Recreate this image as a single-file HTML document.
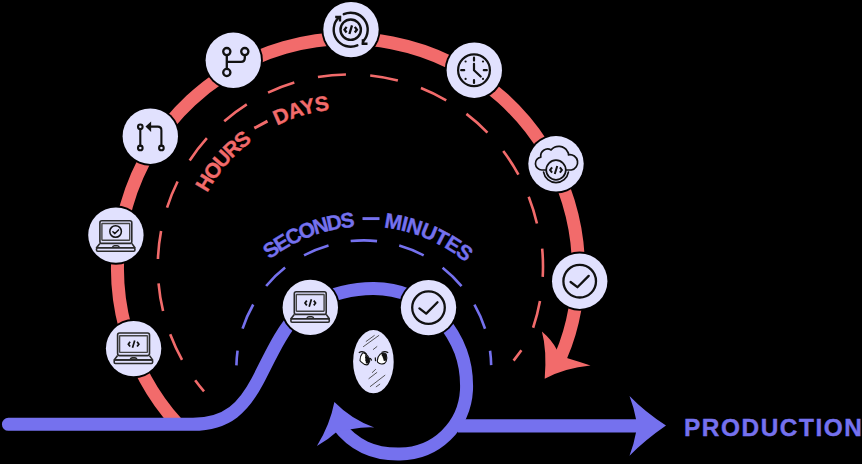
<!DOCTYPE html><html><head><meta charset="utf-8"><style>html,body{margin:0;padding:0;background:#000;}svg{display:block;}</style></head><body>
<svg width="862" height="464" viewBox="0 0 862 464">
<rect width="862" height="464" fill="#000"/>
<path d="M204.02,391.35 A192.00,192.00 0 0 1 195.16,380.20 M182.04,359.78 A192.00,192.00 0 0 1 170.19,334.27 M163.07,311.06 A192.00,192.00 0 0 1 158.55,283.30 M157.94,259.03 A192.00,192.00 0 0 1 161.08,231.08 M167.04,207.55 A192.00,192.00 0 0 1 177.60,181.48 M189.69,160.43 A192.00,192.00 0 0 1 206.89,138.18 M224.22,121.17 A192.00,192.00 0 0 1 246.78,104.38 M268.05,92.67 A192.00,192.00 0 0 1 294.31,82.59 M317.95,77.06 A192.00,192.00 0 0 1 345.95,74.44 M370.20,75.49 A192.00,192.00 0 0 1 397.87,80.52 M420.95,88.07 A192.00,192.00 0 0 1 446.23,100.38 M466.42,113.87 A192.00,192.00 0 0 1 487.45,132.54 M503.24,150.99 A192.00,192.00 0 0 1 518.45,174.64 M528.68,196.66 A192.00,192.00 0 0 1 536.95,223.54 M542.17,248.55 A193.20,193.20 0 0 1 542.72,276.85 M539.98,300.96 A193.30,193.30 0 0 1 533.11,327.73 M521.4,350.2 L513.6,360.6" fill="none" stroke="#F26B6B" stroke-width="2.6"/>
<path d="M236.42,365.35 A127.40,127.40 0 0 1 237.56,350.64 M242.57,328.64 A127.40,127.40 0 0 1 253.25,304.49 M266.15,285.98 A127.40,127.40 0 0 1 285.12,267.60 M304.03,255.29 A127.40,127.40 0 0 1 328.51,245.38 M350.66,241.08 A127.40,127.40 0 0 1 377.07,241.09 M399.22,245.42 A127.40,127.40 0 0 1 423.69,255.35 M442.59,267.68 A127.40,127.40 0 0 1 461.54,286.08 M474.42,304.60 A127.40,127.40 0 0 1 485.07,328.77 M490.06,350.77 A127.40,127.40 0 0 1 491.17,365.13" fill="none" stroke="#7571EE" stroke-width="2.6"/>
<path d="M176.78,423.17 A230.40,230.40 0 1 1 574.90,309.01 Q570.6,333.6 561,356" fill="none" stroke="#F26B6B" stroke-width="13"/>
<path d="M544.7,378.8 Q547,350 541.9,331.5 Q552,340 557,350 L567.6,358.3 Q580,362 590.5,365.6 Q565,368 544.7,378.8 Z" fill="#F26B6B"/>
<path d="M8.4,424.3 L193,424.3 C228,424.3 244,406.5 257.5,381 C270,357 281,331 298.5,313 L310,304 C326,296.5 349,288.5 373,288.5 C399,288.3 424,298.5 440,317 C459,340 467.5,362 466.5,390 C464.5,426 436,453.5 400,454 C374,454.5 354,446 338,425" fill="none" stroke="#7571EE" stroke-width="13" stroke-linecap="round"/>
<path d="M334.4,402.1 Q352,420 374.2,427.4 Q362,427 352.5,428.9 L337.1,431.6 Q328,440 316.9,446 Q330,425 334.4,402.1 Z" fill="#7571EE"/>
<path d="M458,425.8 L640,425.8" stroke="#7571EE" stroke-width="13.2"/>
<path d="M666,425.5 Q645,412 629.5,396 Q634,408 636,419 L636,432.6 Q634,444 629.5,455.7 Q645,440 666,425.5 Z" fill="#7571EE"/>
<g transform="translate(133.6,348.6)"><circle r="29.6" fill="#000"/><circle r="27.7" fill="#E1E1FE"/><g fill="none" stroke="#2a2a2a" stroke-width="1.6" stroke-linejoin="round"><rect x="-16" y="-15.6" width="31.9" height="22.6" rx="2"/><rect x="-14" y="-12.9" width="27.8" height="16.7" rx="0.4" stroke="#444" stroke-width="1.4"/><path d="M-16,7 L-19.4,11.3 L19,11.3 L15.9,7"/><rect x="-19.4" y="11.3" width="38.4" height="3.6" rx="1.2"/><path d="M-3.5,11.3 Q-3,9.3 -1.5,9.3 L1.5,9.3 Q3,9.3 3.5,11.3"/></g><g transform="translate(0,-4.4) scale(0.85)" fill="none" stroke="#111111" stroke-width="2" stroke-linecap="butt" stroke-linejoin="miter"><path d="M-4.1,-2.8 L-6.2,0 L-4.1,2.8 M4.1,-2.8 L6.2,0 L4.1,2.8 M1.3,-4.3 L-1.3,4.3"/></g></g>
<g transform="translate(115.9,235.1)"><circle r="29.6" fill="#000"/><circle r="27.7" fill="#E1E1FE"/><g transform="translate(0,1.3)"><g fill="none" stroke="#2a2a2a" stroke-width="1.6" stroke-linejoin="round"><rect x="-16" y="-15.6" width="31.9" height="22.6" rx="2"/><rect x="-14" y="-12.9" width="27.8" height="16.7" rx="0.4" stroke="#444" stroke-width="1.4"/><path d="M-16,7 L-19.4,11.3 L19,11.3 L15.9,7"/><rect x="-19.4" y="11.3" width="38.4" height="3.6" rx="1.2"/><path d="M-3.5,11.3 Q-3,9.3 -1.5,9.3 L1.5,9.3 Q3,9.3 3.5,11.3"/></g><g fill="none" stroke="#111111" stroke-linecap="round" stroke-linejoin="round" stroke-width="1.5"><circle cx="-0.3" cy="-4.9" r="5.8"/><path d="M-3,-4.7 L-1,-2.8 L2.6,-6.5"/></g></g></g>
<g transform="translate(150.3,136.2)"><circle r="29.6" fill="#000"/><circle r="27.7" fill="#E1E1FE"/><g fill="none" stroke="#111111" stroke-linecap="round" stroke-linejoin="round" stroke-width="2.1"><circle cx="-10" cy="-9.4" r="2.3"/><circle cx="-10" cy="11.7" r="2.3"/><circle cx="11.1" cy="11.7" r="2.3"/><path d="M-10,-7.1 L-10,9.4 M11.1,9.4 L11.1,-6 Q11.1,-9.6 7.5,-9.6 L0.5,-9.6"/></g><path d="M-4.8,-9.6 L0.8,-14.6 L0.8,-4.2 Z" fill="#111111"/></g>
<g transform="translate(233.3,60.3)"><circle r="29.6" fill="#000"/><circle r="27.7" fill="#E1E1FE"/><g transform="translate(0.2,0.3)" fill="none" stroke="#111111" stroke-linecap="round" stroke-linejoin="round" stroke-width="2.3"><circle cx="-6.7" cy="-9" r="3.6"/><circle cx="11.3" cy="-9" r="3.6"/><circle cx="-6.7" cy="11.9" r="3.6"/><path d="M-6.7,-5.4 L-6.7,8.3 M-6.7,1.3 L7.5,1.3 Q11.3,1.3 11.3,-2.5 L11.3,-5.4"/></g></g>
<g transform="translate(351,29.6)"><circle r="29.6" fill="#000"/><circle r="27.7" fill="#E1E1FE"/><g transform="translate(-0.3,0.1)"><g fill="none" stroke="#111111" stroke-linecap="round" stroke-linejoin="round" stroke-width="2.4"><circle r="10.2"/><path d="M-6.91,-15.53 A17.00,17.00 0 0 1 12.63,11.38 L12.2,14"/><path d="M6.64,15.65 A17.00,17.00 0 0 1 -11.81,-12.23 L-10.7,-12.7"/><path d="M12.2,9.6 L12.2,14 L16.8,14" stroke-linecap="butt" stroke-linejoin="miter"/><path d="M-15.5,-12.7 L-10.7,-12.7 L-10.7,-8.2" stroke-linecap="butt" stroke-linejoin="miter"/></g><g transform="translate(0,0) scale(1.0)" fill="none" stroke="#111111" stroke-width="2.3" stroke-linecap="butt" stroke-linejoin="miter"><path d="M-4.1,-2.8 L-6.2,0 L-4.1,2.8 M4.1,-2.8 L6.2,0 L4.1,2.8 M1.3,-4.3 L-1.3,4.3"/></g></g></g>
<g transform="translate(474.3,70.2)"><circle r="29.6" fill="#000"/><circle r="27.7" fill="#E1E1FE"/><g transform="translate(-0.3,0)" fill="none" stroke="#111111" stroke-linecap="round" stroke-linejoin="round" stroke-width="2.2"><circle r="15.9"/><path d="M0,-12.5 L0,-9.6 M0,9.8 L0,12.8 M9.8,0 L12.8,0 M-12.8,0 L-9.8,0 M0,-6.4 L0,0 L6.7,6.3"/></g><g fill="#111111"><circle cx="8.7" cy="-8.7" r="1.1"/><circle cx="-8.7" cy="-8.7" r="1.1"/><circle cx="8.7" cy="8.7" r="1.1"/><circle cx="-8.7" cy="8.7" r="1.1"/></g></g>
<g transform="translate(556,163.8)"><circle r="29.6" fill="#000"/><circle r="27.7" fill="#E1E1FE"/><g fill="none" stroke="#111111" stroke-linecap="round" stroke-linejoin="round" stroke-width="1.7"><path d="M-10,6.2 L-14.2,6.2 A6.5,6.5 0 0 1 -15.2,-6.7 A7,7 0 0 1 -4.9,-13.9 A10,10 0 0 1 11.5,-12.2 A4,4 0 0 1 12.5,-9 A7.6,7.6 0 0 1 15.3,6.2 L10,6.2"/><circle cx="0" cy="6.2" r="9.8" fill="#E1E1FE"/><path d="M12.41,8.39 A12.60,12.60 0 0 1 -12.41,8.39"/></g><g transform="translate(0,6.2) scale(0.95)" fill="none" stroke="#111111" stroke-width="2.1" stroke-linecap="butt" stroke-linejoin="miter"><path d="M-4.1,-2.8 L-6.2,0 L-4.1,2.8 M4.1,-2.8 L6.2,0 L4.1,2.8 M1.3,-4.3 L-1.3,4.3"/></g></g>
<g transform="translate(579.7,281.2)"><circle r="29.6" fill="#000"/><circle r="27.7" fill="#E1E1FE"/><g fill="none" stroke="#111111" stroke-linecap="round" stroke-linejoin="round" stroke-width="2.3"><circle r="16.3"/><path d="M-9.1,0.8 L-2.3,6 L9,-5.3"/></g></g>
<g transform="translate(310.3,307.4)"><circle r="29.6" fill="#000"/><circle r="27.7" fill="#E1E1FE"/><g fill="none" stroke="#2a2a2a" stroke-width="1.6" stroke-linejoin="round"><rect x="-16" y="-15.6" width="31.9" height="22.6" rx="2"/><rect x="-14" y="-12.9" width="27.8" height="16.7" rx="0.4" stroke="#444" stroke-width="1.4"/><path d="M-16,7 L-19.4,11.3 L19,11.3 L15.9,7"/><rect x="-19.4" y="11.3" width="38.4" height="3.6" rx="1.2"/><path d="M-3.5,11.3 Q-3,9.3 -1.5,9.3 L1.5,9.3 Q3,9.3 3.5,11.3"/></g><g transform="translate(0,-4.4) scale(0.85)" fill="none" stroke="#111111" stroke-width="2" stroke-linecap="butt" stroke-linejoin="miter"><path d="M-4.1,-2.8 L-6.2,0 L-4.1,2.8 M4.1,-2.8 L6.2,0 L4.1,2.8 M1.3,-4.3 L-1.3,4.3"/></g></g>
<g transform="translate(428.5,307.6)"><circle r="29.6" fill="#000"/><circle r="27.7" fill="#E1E1FE"/><g fill="none" stroke="#111111" stroke-linecap="round" stroke-linejoin="round" stroke-width="2.3"><circle r="16.3"/><path d="M-9.1,0.8 L-2.3,6 L9,-5.3"/></g></g>
<g transform="translate(373.4,361.7)"><ellipse rx="20.3" ry="31.6" fill="#E1E1FE"/>
<g stroke="#444" stroke-width="0.9" fill="none" stroke-linecap="round"><path d="M-7.2,-20.3 L0.9,-26.2 M-10,-15.1 L5.4,-26.2 M-0.1,-12.25 L3.5,-15.1 M-1.1,10.8 L2.2,7.7 M-4.5,16.9 L3.4,10.8 M-3.1,24.8 L11.5,13.6 M2.8,25.1 L6.4,22.5"/></g>
<g stroke="#111" stroke-width="1.1" stroke-linejoin="round">
<path d="M-13.4,-1.1 Q-13.6,-5.5 -10.9,-8.6 Q-8.5,-9.5 -5.8,-5.9 L-3.7,-2.7 Q-3.6,0.5 -4.2,0.5 Q-5,2.8 -6.6,3.2 Q-9.3,3.2 -12,0.5 Z" fill="#fff"/>
<path d="M-8.6,-7.6 Q-6.5,-6.5 -4.2,-3.2 Q-3.6,0 -4.5,1 Q-6.5,2.5 -7.6,1.5 Q-7.2,0 -8.3,-1.5 Q-7.5,-3 -8.4,-4 Q-7.6,-5.5 -8.6,-7.6 Z" fill="#111" stroke="none"/>
<path d="M3.9,-1.1 Q4.2,-5 6.8,-7.5 Q10,-9.8 12.8,-7.5 Q14,-3.8 12.8,-0.5 Q11.5,2 9.5,2.2 Q6.3,2.9 4.2,0.5 Z" fill="#fff"/>
<path d="M7.6,-8.4 Q10.5,-9.5 12.6,-7.5 Q13.6,-4 12.6,-1.2 Q11,-0.2 10,-1.5 Q10.5,-3 9.4,-3.8 Q9.8,-5.5 8.4,-5.8 Q8.6,-7.2 7.6,-8.4 Z" fill="#111" stroke="none"/>
</g><g stroke="#111" stroke-width="1.2" fill="none" stroke-linecap="round"><path d="M-14.2,-9.2 Q-12.2,-10.6 -9.3,-9.7 Q-8,-9 -7.2,-7.8"/><path d="M8.6,-9.4 Q11.7,-10.8 14.4,-9.2"/><path d="M-2.9,-3.2 L-1.9,-1.6 M1.9,-3.8 L2.1,-1.1"/></g></g>
<defs><path id="rp" d="M197.65,214.28 A160.00,160.00 0 0 1 428.00,130.44"/><path id="bp" d="M246.11,282.40 A156.50,156.50 0 0 1 513.06,329.47"/></defs>
<g font-family="Liberation Sans" font-weight="bold" font-size="21" fill="#F26B6B" stroke="#F26B6B" stroke-width="0.35">
<text><textPath href="#rp" startOffset="23.2" textLength="69.8" lengthAdjust="spacing">HOURS</textPath></text>
<text><textPath href="#rp" startOffset="122" textLength="55.2" lengthAdjust="spacing">DAYS</textPath></text></g>
<path d="M254.3,128.2 L267.5,121.2" stroke="#F26B6B" stroke-width="3"/>
<g font-family="Liberation Sans" font-weight="bold" font-size="21" fill="#7571EE" stroke="#7571EE" stroke-width="0.35">
<text><textPath href="#bp" startOffset="32.7" textLength="92.9" lengthAdjust="spacing">SECONDS</textPath></text>
<text><textPath href="#bp" startOffset="154.2" textLength="90.5" lengthAdjust="spacing">MINUTES</textPath></text></g>
<path d="M362.5,218.6 L379.5,218.6" stroke="#7571EE" stroke-width="2.9"/>
<text x="684" y="436.3" font-family="Liberation Sans" font-weight="bold" font-size="24.4" letter-spacing="1.55" fill="#7571EE" stroke="#7571EE" stroke-width="0.4">PRODUCTION</text>
</svg></body></html>
